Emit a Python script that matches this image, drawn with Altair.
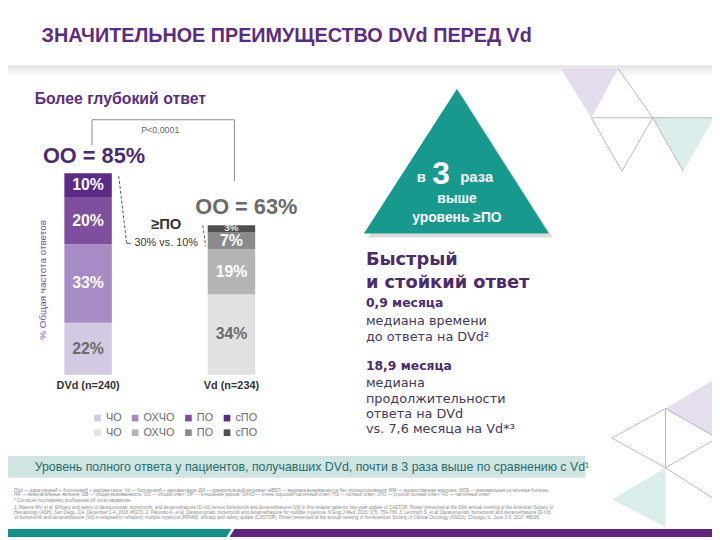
import altair as alt
import pandas as pd

# ---------------- data ----------------
groups = ["DVd", "Vd"]
group_labels = ["DVd (n=240)", "Vd (n=234)"]
categories = ["ЧО", "ОХЧО", "ПО", "сПО"]
dvd_values = [22, 33, 20, 10]
vd_values = [34, 19, 7, 3]
overall_response = [85, 63]
dvd_colors = ["#d3c9e3", "#a68bc4", "#7e4f9f", "#5c2b87"]
vd_colors = ["#e1e1e1", "#b4b4b4", "#8b8b8b", "#4f4f4f"]

rows = []
for g, vals in zip(groups, [dvd_values, vd_values]):
    s = 0
    for c, v in zip(categories, vals):
        rows.append(dict(group=g, cat=c, key=f"{g}|{c}", value=v, start=s,
                         end=s + v, mid=s + v / 2, label=f"{v}%", dark=(c == "ЧО")))
        s += v
df = pd.DataFrame(rows)
df_big = df[df.value >= 5]
df_small = df[df.value < 5]
keys = [f"{g}|{c}" for g in groups for c in categories]
key_colors = dvd_colors + vd_colors
df_groups = pd.DataFrame({"group": groups, "label": group_labels, "oo": overall_response})

# ---------------- scales ----------------
xs = alt.Scale(domain=groups, range=[57, 250], paddingInner=0.669, paddingOuter=0)
ys = alt.Scale(domain=[0, 100], range=[368, 128])

ARIAL = "Liberation Sans, Arial, sans-serif"
ROUND = "DejaVu Sans, Noto Sans, sans-serif"
PURPLE = "#5b2c83"
one = pd.DataFrame({"a": [0]})


def txt(s, x, y, size, color, weight="normal", align="left", font=ARIAL, angle=0):
    return alt.Chart(one).mark_text(
        align=align, baseline="middle", fontSize=size, fontWeight=weight,
        color=color, font=font, angle=angle
    ).encode(x=alt.value(x), y=alt.value(y), text=alt.value(s))


def shape(path, color, filled=True, width=1.0, opacity=1.0):
    if filled:
        m = alt.Chart(one).mark_point(shape=path, size=4, filled=True, color=color,
                                      strokeWidth=0, opacity=opacity)
    else:
        m = alt.Chart(one).mark_point(shape=path, size=4, filled=False, color=color,
                                      strokeWidth=width, opacity=opacity)
    return m.encode(x=alt.value(0), y=alt.value(0))


def rule(x1, y1, x2, y2, color="#8a8a8a", width=1.0, dash=None):
    kw = dict(color=color, strokeWidth=width)
    if dash:
        kw["strokeDash"] = dash
    return alt.Chart(one).mark_rule(**kw).encode(
        x=alt.value(x1), y=alt.value(y1), x2=alt.value(x2), y2=alt.value(y2))


layers = []

# header shadow
layers.append(alt.Chart(one).mark_rect(color=alt.Gradient(
    gradient="linear", x1=0, x2=0, y1=0, y2=1,
    stops=[alt.GradientStop(color="#e2e2e2", offset=0),
           alt.GradientStop(color="#ffffff", offset=1)])).encode(
    x=alt.value(0), x2=alt.value(712), y=alt.value(55), y2=alt.value(66)))

# decorations right
layers.append(shape("M559,58L617,58L590,108Z", "#e4dcec"))
layers.append(shape("M652,108L714,108L683,162Z", "#dbeeec"))
layers.append(shape("M590,108L712,108M590,108L621,162L652,108M617,58L652,108M652,108L683,162",
                    "#a8a8a8", filled=False, width=0.8))
layers.append(shape("M665,402L712,374L712,429Z", "#e6deee"))
layers.append(shape("M665,462L611,494L665,522Z", "#d9eeeb"))
layers.append(shape("M611,432L665,402L665,462ZM665,402L712,429M665,462L712,435M665,462L712,492",
                    "#a8a8a8", filled=False, width=0.8))

# title
layers.append(txt("ЗНАЧИТЕЛЬНОЕ ПРЕИМУЩЕСТВО DVd ПЕРЕД Vd", 34, 25, 20, PURPLE, "bold"))
layers.append(txt("Более глубокий ответ", 27, 89, 16, PURPLE, "bold"))

# bars
bars = alt.Chart(df).mark_bar().encode(
    x=alt.X("group:N", scale=xs, axis=None),
    y=alt.Y("start:Q", scale=ys, axis=None),
    y2="end:Q",
    color=alt.Color("key:N", scale=alt.Scale(domain=keys, range=key_colors),
                    legend=alt.Legend(orient="none", legendX=85, legendY=406, columns=4,
                                      direction="horizontal",
                                      title=None, symbolType="square", symbolSize=45,
                                      symbolStrokeWidth=0, labelFontSize=11,
                                      labelColor="#6a6a6a", labelFont=ARIAL,
                                      labelExpr="split(datum.label, '|')[1]",
                                      rowPadding=3, columnPadding=8, padding=0,
                                      labelOffset=3)),
)
layers.append(bars)
layers.append(alt.Chart(df_big).mark_text(fontSize=16, fontWeight="bold", font=ARIAL,
                                          baseline="middle").encode(
    x=alt.X("group:N", scale=xs, axis=None),
    y=alt.Y("mid:Q", scale=ys, axis=None),
    text="label:N",
    color=alt.condition("datum.dark", alt.value("#6b6b6b"), alt.value("#ffffff")),
))
layers.append(alt.Chart(df_small).mark_text(fontSize=10, fontWeight="bold", font=ARIAL,
                                            baseline="middle", dy=-1, color="#e8e8e8").encode(
    x=alt.X("group:N", scale=xs, axis=None),
    y=alt.Y("mid:Q", scale=ys, axis=None),
    text="label:N",
))
layers.append(alt.Chart(df_groups).mark_text(fontSize=11, fontWeight="bold", font=ARIAL,
                                             color="#333333", baseline="middle").encode(
    x=alt.X("group:N", scale=xs, axis=None), y=alt.value(379), text="label:N"))

# overall response labels
layers.append(alt.Chart(df_groups[df_groups.group == "DVd"]).mark_text(
    fontSize=22, fontWeight="bold", font=ARIAL, color="#4b2a6e", baseline="middle", dx=6, dy=-17
).transform_calculate(t="'ОО = ' + datum.oo + '%'").encode(
    x=alt.X("group:N", scale=xs, axis=None), y=alt.Y("oo:Q", scale=ys, axis=None), text="t:N"))
layers.append(alt.Chart(df_groups[df_groups.group == "Vd"]).mark_text(
    fontSize=22, fontWeight="bold", font=ARIAL, color="#6b6b6b", baseline="middle", dx=15, dy=-18
).transform_calculate(t="'ОО = ' + datum.oo + '%'").encode(
    x=alt.X("group:N", scale=xs, axis=None), y=alt.Y("oo:Q", scale=ys, axis=None), text="t:N"))

# y title
layers.append(txt("% Общая частота ответов", 35, 272, 10, "#7a4fa0", angle=270, align="center"))

# p-value bracket
layers.append(rule(85, 110, 85, 136))
layers.append(rule(85, 110, 229, 110))
layers.append(rule(229, 110, 229, 172))
layers.append(txt("P<0,0001", 154, 120, 9, "#666666", align="center"))

# >=PO comparison
layers.append(rule(112, 167, 120, 235, color="#555555", dash=[3, 2]))
layers.append(rule(120, 235, 124, 235, color="#555555"))
layers.append(rule(197, 217, 200, 238, color="#555555", dash=[3, 2]))
layers.append(txt("≥ПО", 160, 215, 15, "#333333", "bold", align="center"))
layers.append(txt("30% vs. 10%", 160, 235, 11, "#333333", align="center"))

# teal triangle
layers.append(shape("M457,82L551,229L364,229Z", "#9a9a9a", opacity=0.35))
layers.append(shape("M454,79L547,225L360,225Z", "#17998e"))
layers.append(txt("в", 418, 168, 15, "white", "bold", align="center"))
layers.append(txt("3", 438, 165, 32, "white", "bold", align="center"))
layers.append(txt("раза", 474, 168, 15, "white", "bold", align="center"))
layers.append(txt("выше", 454, 190, 14, "white", "bold", align="center"))
layers.append(txt("уровень ≥ПО", 454, 209, 14, "white", "bold", align="center"))

# right text block
HEAD = "#4b2a6e"
BODY = "#45385a"
layers.append(txt("Быстрый", 362, 252, 18, HEAD, "bold", font=ROUND))
layers.append(txt("и стойкий ответ", 362, 275, 18, HEAD, "bold", font=ROUND))
layers.append(txt("0,9 месяца", 362, 295, 12.5, HEAD, "bold", font=ROUND))
layers.append(txt("медиана времени", 362, 314, 13, BODY, font=ROUND))
layers.append(txt("до ответа на DVd²", 362, 329.5, 13, BODY, font=ROUND))
layers.append(txt("18,9 месяца", 362, 359, 12.5, HEAD, "bold", font=ROUND))
layers.append(txt("медиана", 362, 376, 13, BODY, font=ROUND))
layers.append(txt("продолжительности", 362, 392, 13, BODY, font=ROUND))
layers.append(txt("ответа на DVd", 362, 407.5, 13, BODY, font=ROUND))
layers.append(txt("vs. 7,6 месяца на Vd*³", 362, 423, 13, BODY, font=ROUND))

# banner
layers.append(alt.Chart(one).mark_rect(color="#cfe4e3").encode(
    x=alt.value(0), x2=alt.value(584), y=alt.value(450), y2=alt.value(472)))
layers.append(txt("Уровень полного ответа у пациентов, получавших DVd, почти в 3 раза выше по сравнению с Vd¹",
                  27, 461, 12.5, "#1e6e6a"))

# footnotes
foot = [
    "DVd — даратумумаб + бортезомиб + дексаметазон; Vd — бортезомиб + дексаметазон; ДИ — доверительный интервал; мВБП — медиана выживаемости без прогрессирования; ММ — множественная миелома; МОБ — минимальная остаточная болезнь;",
    "НЯ — нежелательные явления; ОВ — общая выживаемость; ОО — общий ответ; ОР — отношение рисков; ОХЧО — очень хороший частичный ответ; ПО — полный ответ; сПО — строгий полный ответ; ЧО — частичный ответ",
    "* Согласно последнему сообщению об этом параметре.",
    "1. Mateos MV, et al. Efficacy and safety of daratumumab, bortezomib, and dexamethasone (D-Vd) versus bortezomib and dexamethasone (Vd) in first relapse patients: two-year update of CASTOR. Poster presented at the 59th annual meeting of the American Society of",
    "Hematology (ASH). San Diego, CA. December 1-4, 2018. #3270. 2. Palumbo A, et al. Daratumumab, bortezomib and dexamethasone for multiple myeloma. N Engl J Med. 2016; 375: 754-766. 3. Lentzsch S, et al. Daratumumab, bortezomib and dexamethasone (D-Vd)",
    "vs bortezomib and dexamethasone (Vd) in relapsed or refractory multiple myeloma (RRMM): efficacy and safety update (CASTOR). Poster presented at the annual meeting of the American Society of Clinical Oncology (ASCO). Chicago, IL. June 2-6, 2017. #8036",
]
for line, yy in zip(foot, [485, 490, 496, 503, 508, 513]):
    layers.append(txt(line, 6, yy, 4.6, "#8a8a8a"))

# bottom stripe
layers.append(shape("M0,524L226,524L221,532L0,532Z", "#119189"))
layers.append(shape("M229,524L712,524L712,532L224,532Z", "#5f2481"))

chart = alt.layer(*layers).properties(
    width=712, height=532, padding=0, autosize="none"
).configure_view(stroke=None)

chart.save("out.html", embed_options={"renderer": "svg", "actions": False})
